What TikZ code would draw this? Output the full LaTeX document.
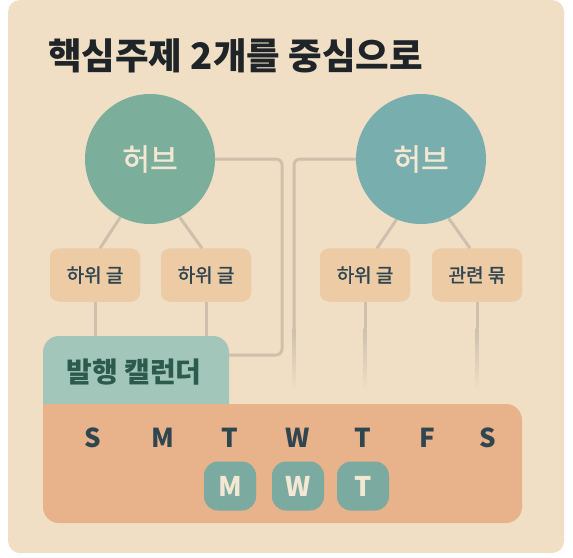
\documentclass[tikz,border=0pt]{standalone}
\usepackage{fontspec}
\setmainfont{Noto Sans CJK KR}
\newfontfamily\medkr[FakeBold=1.6]{Noto Sans CJK KR}
\usepackage{tikz}

\definecolor{paper}{HTML}{F0DFC5}
\definecolor{hubA}{HTML}{7BAE9B}
\definecolor{hubB}{HTML}{79AEAE}
\definecolor{linec}{HTML}{CEC0AC}
\definecolor{boxfill}{HTML}{ECCBA5}
\definecolor{ink}{HTML}{2F4550}
\definecolor{tabfill}{HTML}{A3C6BA}
\definecolor{tabink}{HTML}{2C5A4C}
\definecolor{band}{HTML}{E8B28A}
\definecolor{pickfill}{HTML}{7AAAA0}
\definecolor{cream}{HTML}{F4E7D3}
\definecolor{titleink}{HTML}{1F2428}

\begin{document}
\begin{tikzpicture}[x=1pt, y=-1pt,
    hub/.style={circle, minimum size=130pt, inner sep=0pt, text=cream, font=\medkr\fontsize{30}{30}\selectfont},
    sub/.style={rounded corners=9pt, fill=boxfill, minimum width=90pt, minimum height=53pt, text=ink, font=\medkr\fontsize{19}{19}\selectfont},
    link/.style={draw=linec, line width=3pt},
    day/.style={text=ink, font=\fontsize{26}{26}\selectfont\bfseries},
    pick/.style={fill=pickfill, rounded corners=14pt, minimum width=52pt, minimum height=49pt, text=cream, font=\fontsize{27}{27}\selectfont\bfseries}]
  \useasboundingbox (0,0) rectangle (573,557);
  \fill[white] (0,0) rectangle (573,557);
  \fill[paper, rounded corners=12pt] (8,0) rectangle (564,553);

  % heading
  \node[anchor=west, inner sep=0pt, text=titleink, font=\fontsize{36.5}{36.5}\selectfont\bfseries] (title) at (48,56) {핵심주제 2개를 중심으로};

  % hubs and topics (placed first, drawn over the links below)
  \path (150,159) node[hub] (h1) {}
        (421,159) node[hub] (h2) {};
  \path (95,275)  node[sub] (b1) {}
        (206,275) node[sub] (b2) {}
        (365,275) node[sub] (b3) {}
        (477,275) node[sub] (b4) {};
  \node[minimum width=186pt, minimum height=68pt] (tab) at (136,370) {};
  \coordinate (k1) at (282,355);
  \coordinate (k2) at (294,328);
  \coordinate (f2) at (294,392);
  \coordinate (f3) at (365,392);
  \coordinate (f4) at (477,392);

  % links
  \draw[link] (h1.-117) -- ([xshift=5pt]b1.north);
  \draw[link] (h1.-63) -- ([xshift=-4pt]b2.north);
  \draw[link] (h2.-112) -- ([xshift=12pt]b3.north);
  \draw[link] (h2.-65) -- ([xshift=-7pt]b4.north);
  \draw[link] (b1.south) -- (b1.south |- tab.north);
  \draw[link] (b2.south) -- (b2.south |- tab.north);
  \draw[link, rounded corners=6pt] (h1.east) -| (k1) -- (k1 -| tab.east);
  \draw[link, rounded corners=6pt] (h2.west) -| (k2);
  \shade[top color=linec, bottom color=paper] ([xshift=-1.5pt]k2) rectangle ([xshift=1.5pt]f2);
  \foreach \b/\f in {b3/f3, b4/f4} {
    \draw[link] (\b.south) -- (\b.south |- k2);
    \shade[top color=linec, bottom color=paper] ([xshift=-1.5pt]\b.south |- k2) rectangle ([xshift=1.5pt]\f);
  }

  % hubs and topics on top
  \fill[hubA] (h1) circle (65pt);
  \fill[hubB] (h2) circle (65pt);
  \node[hub] at (h1) {허브};
  \node[hub] at (h2) {허브};
  \foreach \b/\t in {b1/하위 글, b2/하위 글, b3/하위 글, b4/관련 묶} {
    \node[sub] at (\b) {\t};
  }

  % calendar
  \fill[tabfill] (43,404) [rounded corners=16pt] -- (43,336) -- (229,336) [sharp corners] -- (229,404) -- cycle;
  \fill[band] (43,404) [rounded corners=16pt] -- (522,404) -- (522,523) -- (43,523) [sharp corners] -- cycle;
  \node[text=tabink, font=\fontsize{28}{28}\selectfont\bfseries] at (134,372) {발행 캘런더};
  \coordinate (row) at (0,486);
  \foreach \d/\x [count=\i] in {S/93, M/163, T/230, W/298, T/363, F/427, S/488} {
    \node[day] (d\i) at (\x, 438) {\d};
  }
  \foreach \d/\j in {M/3, W/4, T/5} {
    \node[pick] (p\j) at (d\j |- row) {\d};
  }
\end{tikzpicture}
\end{document}
